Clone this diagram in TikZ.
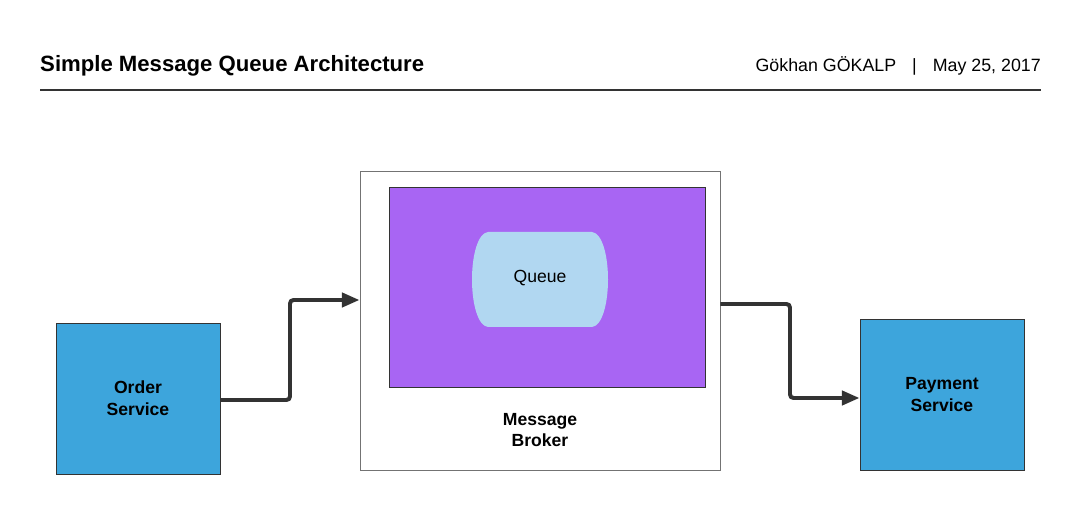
\documentclass[tikz,border=0pt]{standalone}
\usepackage{fontspec}
\setmainfont{Liberation Sans}
\usepackage{tikz}
\usetikzlibrary{arrows.meta,positioning,calc}

\definecolor{svcblue}{HTML}{3DA5DC}
\definecolor{brokerpurple}{HTML}{A865F3}
\definecolor{queueblue}{HTML}{B1D7F1}
\definecolor{inkdark}{HTML}{333333}

\begin{document}
\begin{tikzpicture}[
  x=0.03cm, y=-0.03cm,
  service/.style={draw=inkdark, line width=0.8pt, fill=svcblue, minimum width=4.92cm, minimum height=4.53cm,
    align=center, font=\fontsize{15}{18.7}\selectfont\bfseries, inner sep=0pt},
  broker/.style={draw=black!55, line width=0.8pt, fill=white, minimum width=10.8cm, minimum height=8.97cm, inner sep=0pt},
  exchange/.style={draw=inkdark, line width=0.8pt, fill=brokerpurple, minimum width=9.48cm, minimum height=6cm, inner sep=0pt},
  label/.style={align=center, font=\fontsize{15}{18.7}\selectfont\bfseries},
  flow/.style={-{Triangle[length=15pt, width=12pt]}, line width=3.4pt, draw=inkdark, rounded corners=3pt},
]
  \useasboundingbox (0,0) rectangle (1081,515);

  % Header
  \node[anchor=base west, inner sep=0pt, font=\fontsize{18.9}{22}\selectfont\bfseries] (title) at (40,72) {Simple Message Queue Architecture};
  \node[anchor=base east, inner sep=0pt, font=\fontsize{15.2}{18}\selectfont] (author) at (1041,72) {Gökhan GÖKALP\hspace{0.9em}|\hspace{0.9em}May 25, 2017};
  \draw[inkdark, line width=1.7pt] (40,90) -- (1041,90);

  % Services
  \node[service] (order) at (138,398.5) {Order\\Service};
  \node[service] (payment) at (942,394.5) {Payment\\Service};

  % Broker
  \node[broker] (broker) at (540,320.5) {};
  \node[exchange] (exchange) at (547,287) {};
  \node[label] (brokerlabel) at (540,430) {Message\\Broker};

  % Queue
  \fill[queueblue] (488,232) -- (592,232)
    .. controls (602,233) and (608,255) .. (608,279.5)
    .. controls (608,304) and (602,326) .. (592,327)
    -- (488,327)
    .. controls (478,326) and (472,304) .. (472,279.5)
    .. controls (472,255) and (478,233) .. (488,232);
  \node[font=\fontsize{15}{18}\selectfont] (queue) at (540,278) {Queue};

  % Connectors
  \draw[flow] (order.east |- 0,400) -| (290,300) -- (broker.west |- 0,300);
  \draw[flow] (broker.east |- 0,304) -| (790,398) -- (payment.west |- 0,398);

\end{tikzpicture}
\end{document}
